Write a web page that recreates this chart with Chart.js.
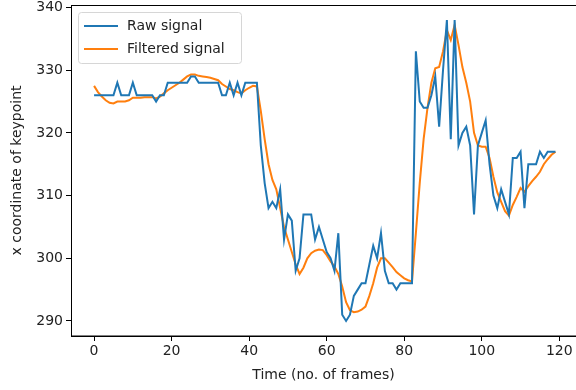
<!DOCTYPE html>
<html>
<head>
<meta charset="utf-8">
<script src="https://cdn.jsdelivr.net/npm/chart.js@4"></script>
<style>
    body { margin: 0; background: #fff; }
    #wrap { width: 576px; height: 390px; }
</style>
</head>
<body>
<div id="wrap"><canvas id="canvas"></canvas></div>
<script>
const rawSignal = [
    326, 326, 326, 326, 326, 326, 328, 326, 326, 326,
    328, 326, 326, 326, 326, 326, 325, 326, 326, 328,
    328, 328, 328, 328, 328, 329, 329, 328, 328, 328,
    328, 328, 328, 326, 326, 328, 326, 328, 326, 328,
    328, 328, 328, 318, 312, 308, 309, 308, 311, 303,
    307, 306, 298, 300, 307, 307, 307, 303, 305, 303,
    301, 300, 298, 304, 291, 290, 291, 294, 295, 296,
    296, 299, 302, 300, 304, 298, 296, 296, 295, 296,
    296, 296, 296, 333, 325, 324, 324, 326, 329, 321,
    330, 338, 319, 338, 318, 320, 321, 318, 307, 318,
    320, 322, 315, 310, 308, 311, 309, 307, 316, 316,
    317, 308, 315, 315, 315, 317, 316, 317, 317, 317
];
const filteredSignal = [
    327.5, 326.5, 325.8, 325.2, 324.8, 324.7, 325.0, 325.0, 325.0, 325.2,
    325.6, 325.6, 325.6, 325.7, 325.7, 325.7, 325.5, 325.8, 326.3, 326.8,
    327.2, 327.6, 328.0, 328.5, 329.0, 329.3, 329.3, 329.1, 329.0, 328.9,
    328.8, 328.6, 328.4, 327.8, 327.4, 327.0, 326.8, 326.5, 326.3, 326.8,
    327.2, 327.5, 327.4, 323.5, 319.0, 315.0, 312.5, 311.0, 308.0, 305.0,
    303.0, 301.0, 299.0, 297.5, 298.5, 300.0, 300.8, 301.2, 301.4, 301.3,
    300.5, 299.5, 298.7, 297.5, 295.5, 293.0, 291.7, 291.4, 291.5, 291.8,
    292.3, 294.0, 296.0, 298.5, 300.0, 300.0, 299.3, 298.6, 297.8, 297.3,
    296.8, 296.5, 296.3, 304.0, 312.0, 319.0, 324.0, 328.0, 330.3, 330.5,
    333.0, 336.4, 334.8, 337.2, 334.0, 330.5, 328.0, 325.0, 320.0, 318.0,
    317.8, 317.8, 316.0, 313.0, 310.5, 309.0, 307.5, 306.8, 308.5, 309.8,
    311.2, 310.6, 311.5, 312.3, 313.0, 313.8, 315.0, 315.8, 316.5, 317.0
];
const frames = rawSignal.map((v, i) => i);
const xTicks = [0, 20, 40, 60, 80, 100, 120];
const yTicks = [290, 300, 310, 320, 330, 340];

const fontFamily = '"DejaVu Sans", sans-serif';
const textColor = '#222';

function toPoints(values) {
    return values.map((v, i) => ({ x: frames[i], y: v }));
}

// frame round the plot and the legend box, matplotlib style
const framePlugin = {
    id: 'frame',
    afterDraw(chart) {
        const ctx = chart.ctx;
        const a = chart.chartArea;
        ctx.save();
        ctx.strokeStyle = '#000';
        ctx.lineWidth = 1;
        ctx.strokeRect(a.left + 0.5, a.top + 0.5, a.right - a.left, a.bottom - a.top - 0.5);

        const x = a.left + 7, y = a.top + 7, w = 163, h = 51;
        ctx.fillStyle = 'rgba(255,255,255,0.8)';
        ctx.strokeStyle = '#d6d6d6';
        ctx.beginPath();
        ctx.roundRect(x + 0.5, y + 0.5, w, h, 3);
        ctx.fill();
        ctx.stroke();

        ctx.font = '14px ' + fontFamily;
        ctx.textBaseline = 'middle';
        chart.data.datasets.forEach((ds, i) => {
            const cy = y + 14 + i * 23;
            ctx.strokeStyle = ds.borderColor;
            ctx.lineWidth = 2;
            ctx.beginPath();
            ctx.moveTo(x + 6, cy);
            ctx.lineTo(x + 40, cy);
            ctx.stroke();
            ctx.fillStyle = textColor;
            ctx.fillText(ds.label, x + 49, cy);
        });
        ctx.restore();
    }
};

const ctx = document.getElementById('canvas').getContext('2d');
const myChart = new Chart(ctx, {
    type: 'line',
    data: {
        datasets: [
            { label: 'Raw signal', data: toPoints(rawSignal), borderColor: '#1f77b4', borderWidth: 2, pointRadius: 0, tension: 0, fill: false },
            { label: 'Filtered signal', data: toPoints(filteredSignal), borderColor: '#ff7f0e', borderWidth: 2, pointRadius: 0, tension: 0, fill: false }
        ]
    },
    options: {
        responsive: true,
        maintainAspectRatio: false,
        animation: false,
        layout: { padding: { top: 5, right: 0, left: 0, bottom: 0 } },
        plugins: {
            legend: { display: false },
            tooltip: { enabled: false }
        },
        scales: {
            x: {
                type: 'linear',
                min: -5.95,
                max: 124.3,
                afterFit: scale => {
                    scale.height = 54;
                    scale.paddingLeft = 0;
                    scale.paddingRight = 0;
                },
                afterBuildTicks: scale => { scale.ticks = xTicks.map(v => ({ value: v })); },
                grid: { drawOnChartArea: false, drawTicks: true, tickLength: 5, tickColor: '#000' },
                border: { display: true, color: '#000' },
                ticks: { color: textColor, padding: 2, maxRotation: 0, font: { family: fontFamily, size: 14 } },
                title: { display: true, text: 'Time (no. of frames)', color: textColor, padding: { top: 0, bottom: 6 }, font: { family: fontFamily, size: 14 } }
            },
            y: {
                min: 287.6,
                max: 340.4,
                afterFit: scale => {
                    scale.width = 71;
                    scale.paddingTop = 0;
                    scale.paddingBottom = 0;
                },
                afterBuildTicks: scale => { scale.ticks = yTicks.map(v => ({ value: v })); },
                grid: { drawOnChartArea: false, drawTicks: true, tickLength: 5, tickColor: '#000' },
                border: { display: true, color: '#000' },
                ticks: { color: textColor, padding: 3, font: { family: fontFamily, size: 14 } },
                title: { display: true, text: 'x coordinate of keypoint', color: textColor, padding: { top: 9, bottom: 0 }, font: { family: fontFamily, size: 14 } }
            }
        }
    },
    plugins: [framePlugin]
});
</script>
</body>
</html>
